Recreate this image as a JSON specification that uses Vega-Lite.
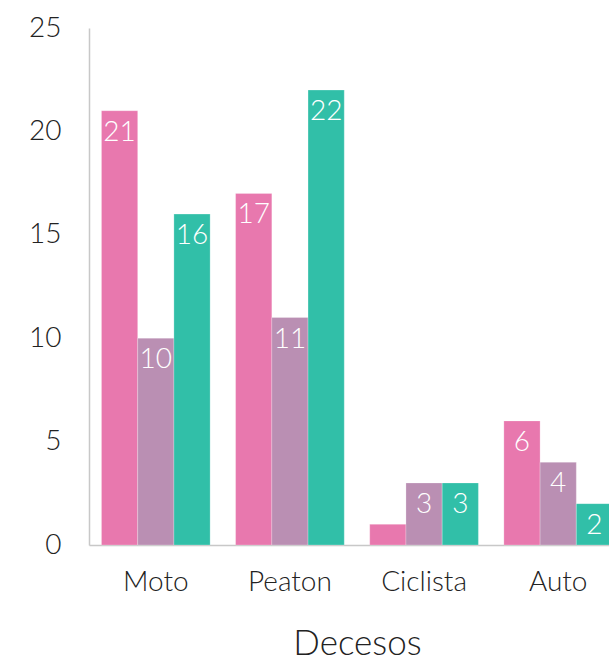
{
  "$schema": "https://vega.github.io/schema/vega-lite/v6.json",
  "width": 520,
  "height": 517,
  "autosize": {"type": "none"},
  "padding": {"left": 89, "top": 28, "right": 0, "bottom": 120},
  "background": "white",
  "config": {
    "view": {"stroke": null},
    "font": "Lato",
    "axis": {"labelFont": "Lato", "titleFont": "Lato"}
  },
  "data": {
    "values": [
      {"tipo": "Moto", "serie": "Serie 1", "valor": 21},
      {"tipo": "Moto", "serie": "Serie 2", "valor": 10},
      {"tipo": "Moto", "serie": "Serie 3", "valor": 16},
      {"tipo": "Peaton", "serie": "Serie 1", "valor": 17},
      {"tipo": "Peaton", "serie": "Serie 2", "valor": 11},
      {"tipo": "Peaton", "serie": "Serie 3", "valor": 22},
      {"tipo": "Ciclista", "serie": "Serie 1", "valor": 1},
      {"tipo": "Ciclista", "serie": "Serie 2", "valor": 3},
      {"tipo": "Ciclista", "serie": "Serie 3", "valor": 3},
      {"tipo": "Auto", "serie": "Serie 1", "valor": 6},
      {"tipo": "Auto", "serie": "Serie 2", "valor": 4},
      {"tipo": "Auto", "serie": "Serie 3", "valor": 2}
    ]
  },
  "encoding": {
    "x": {
      "field": "tipo",
      "type": "nominal",
      "sort": ["Moto", "Peaton", "Ciclista", "Auto"],
      "scale": {"range": [0, 536], "paddingInner": 0.19, "paddingOuter": 0.093},
      "axis": {
        "title": "Decesos",
        "titleFontSize": 35,
        "titleFontWeight": 300,
        "titleColor": "#222222",
        "titlePadding": 30,
        "labelAngle": 0,
        "labelFontSize": 28,
        "labelFontWeight": 300,
        "labelColor": "#222222",
        "labelPadding": 23,
        "ticks": false,
        "domainColor": "#c8c8c8",
        "domainWidth": 1.5
      }
    },
    "xOffset": {
      "field": "serie",
      "type": "nominal",
      "scale": {"paddingInner": 0, "paddingOuter": 0}
    },
    "y": {
      "field": "valor",
      "type": "quantitative",
      "scale": {"domain": [0, 25], "nice": false},
      "axis": {
        "title": null,
        "values": [0, 5, 10, 15, 20, 25],
        "grid": false,
        "ticks": false,
        "labelFontSize": 28,
        "labelFontWeight": 300,
        "labelColor": "#222222",
        "labelPadding": 28,
        "domainColor": "#c8c8c8",
        "domainWidth": 1.5
      }
    }
  },
  "layer": [
    {
      "mark": {"type": "bar", "stroke": "#ffffff", "strokeOpacity": 0.4, "strokeWidth": 0.6},
      "encoding": {
        "color": {
          "field": "serie",
          "type": "nominal",
          "scale": {"range": ["#e878ae", "#ba8fb3", "#31bfa8"]},
          "legend": null
        }
      }
    },
    {
      "transform": [{"filter": "datum.valor >= 2"}],
      "mark": {"type": "text", "baseline": "top", "dy": 8, "fontSize": 28, "fontWeight": 300, "color": "#ffffff"},
      "encoding": {
        "text": {"field": "valor", "type": "quantitative"}
      }
    }
  ]
}
